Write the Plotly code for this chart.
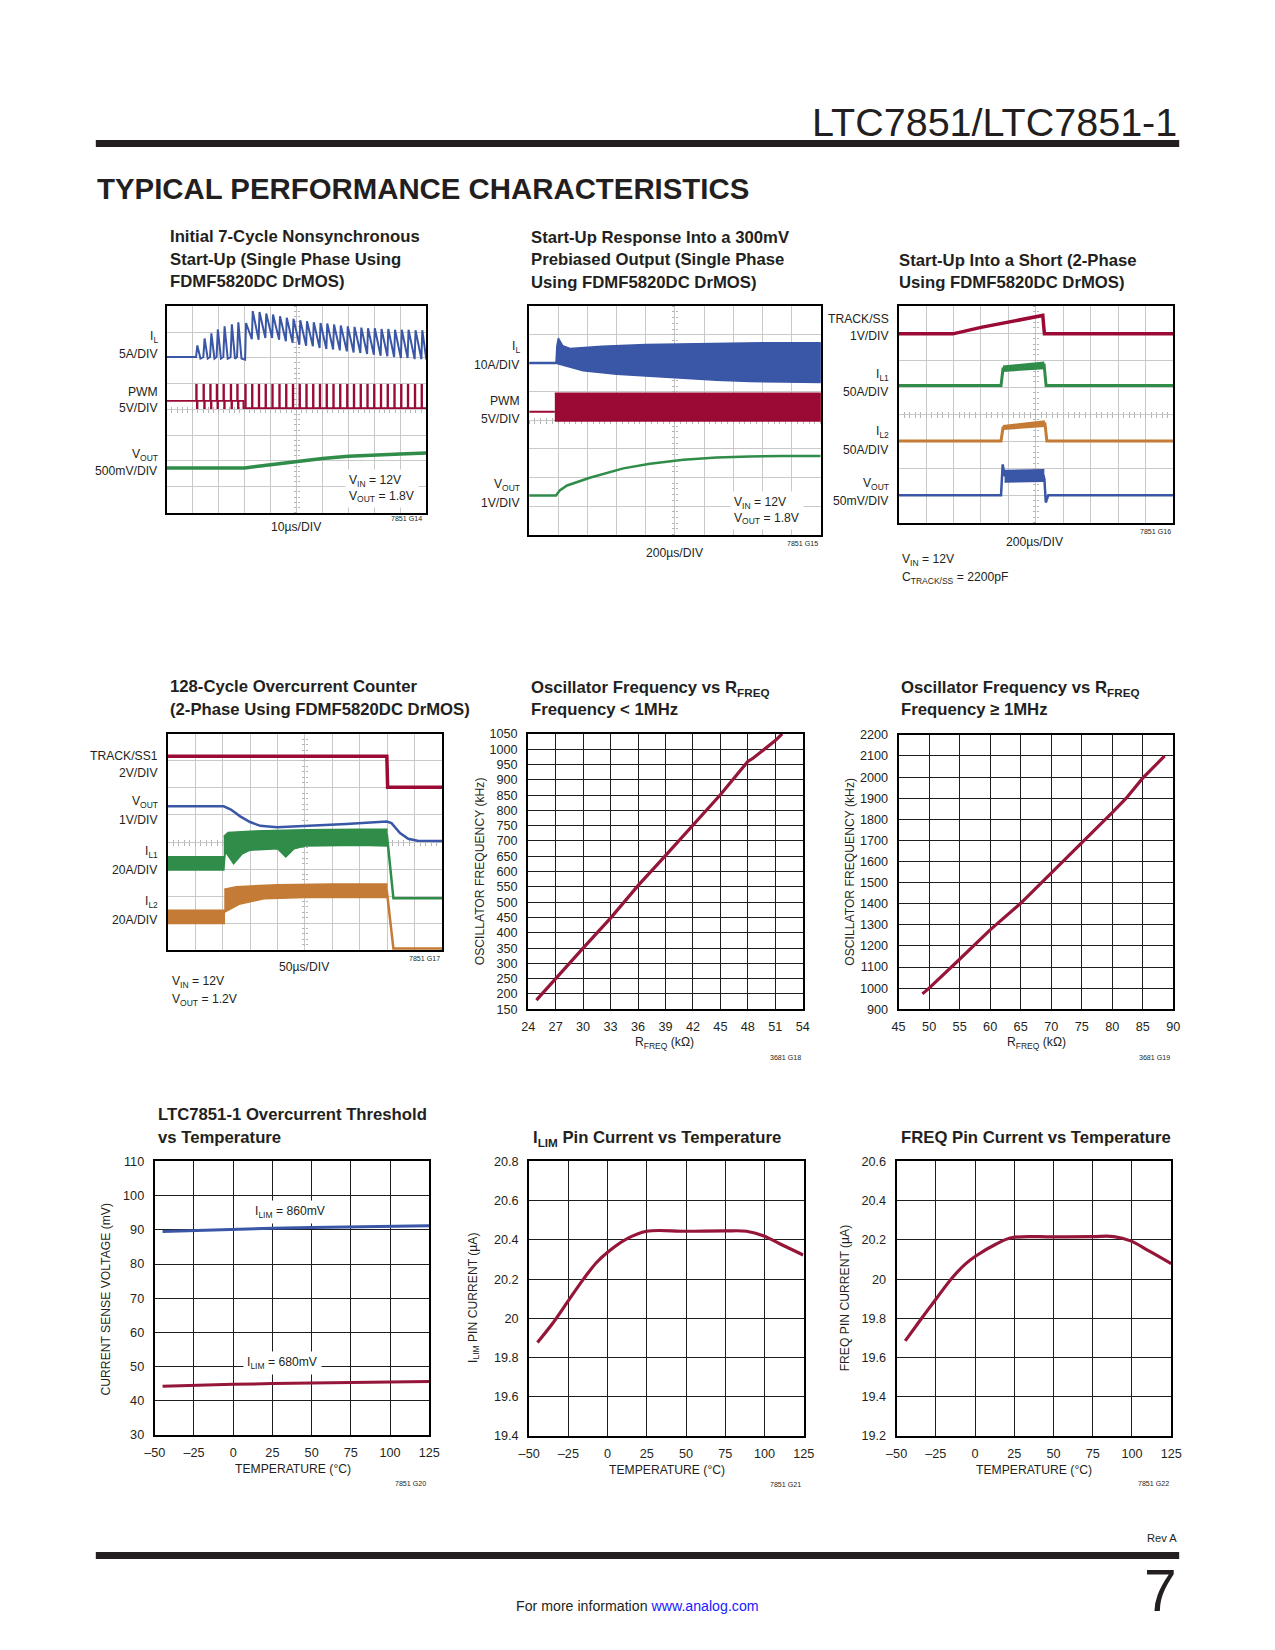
import plotly.graph_objects as go

# Page is 1275x1650; the browser body keeps its default 8px margin, so the figure is 16px smaller
PAGE_W, PAGE_H = 1275, 1650
OFF = 8
FW, FH = PAGE_W - 2 * OFF, PAGE_H - 2 * OFF
# the photographed page comes out slightly shrunk about its centre; pre-compensate positions
SX, SY = 0.984, 0.990
CX, CY = 637.5, 825.0
FSCALE = 1.0 / 0.987
FONT = "Liberation Sans, Arial, Helvetica, sans-serif"
TXT = "#231f20"
RED = "#9b0a34"
BLUE = "#3a56a6"
GREEN = "#2f8c49"
ORANGE = "#c47b35"
CURVE = "#951638"

# ---------------- data (scope traces in divisions, x 0-10, y 0-8) ----------------
# Panel 1: Initial 7-cycle nonsynchronous start-up
P1_IL_BASE = 6.03
P1_NS_FLOOR = 5.97
P1_NS_RISE = 0.05
P1_NS_FALL = 0.12
P1_NS_PULSE_T = [1.13, 1.41, 1.67, 1.92, 2.18, 2.46, 2.71]
P1_NS_IL_PEAK = [6.48, 6.75, 6.95, 7.10, 7.22, 7.30, 7.38]
P1_SYNC_START = 5.93
P1_SYNC_RISE = 0.035
P1_SYNC_PULSE_T = [3.02, 3.28, 3.54, 3.80, 4.06, 4.33, 4.59, 4.85, 5.11, 5.37, 5.63, 5.89, 6.15, 6.41,
                   6.67, 6.94, 7.20, 7.46, 7.72, 7.98, 8.24, 8.50, 8.76, 9.02, 9.28, 9.55, 9.81]
P1_SYNC_IL_PEAK = [7.35, 7.81, 7.78, 7.72, 7.68, 7.61, 7.55, 7.51, 7.46, 7.42, 7.38, 7.35, 7.33, 7.29,
                   7.25, 7.22, 7.20, 7.17, 7.15, 7.15, 7.12, 7.12, 7.09, 7.09, 7.09, 7.07, 7.07]
P1_SYNC_IL_VALLEY = [6.72, 6.70, 6.77, 6.77, 6.70, 6.64, 6.58, 6.51, 6.47, 6.45, 6.38, 6.34, 6.32, 6.29,
                     6.25, 6.21, 6.19, 6.15, 6.12, 6.08, 6.06, 6.03, 5.99, 5.99, 5.95, 5.95, 5.93]
P1_END = 10.0
P1_PWM_MID, P1_PWM_LOW, P1_PWM_HIGH = 4.33, 4.05, 4.95
P1_PWM_WIDTH = 0.03
P1_PWM_SWITCH = 2.95
P1_VOUT_T = [0, 3.0, 4.0, 5.0, 6.0, 7.0, 8.0, 9.0, 10]
P1_VOUT_V = [1.73, 1.73, 1.85, 1.98, 2.10, 2.18, 2.24, 2.27, 2.31]

# Panel 2: start-up into 300mV prebiased output
P2_IL_FLAT_T = [0, 0.92]
P2_IL_FLAT_V = [6.01, 6.01]
P2_IL_UP_T = [0.92, 0.95, 1.0, 1.15, 1.4, 2.5, 4.0, 6.0, 8.0, 10.0]
P2_IL_UP_V = [6.01, 6.60, 6.88, 6.62, 6.52, 6.60, 6.66, 6.70, 6.72, 6.72]
P2_IL_LO_T = [0.92, 1.4, 1.85, 3.0, 4.14, 5.29, 6.43, 7.57, 8.72, 10.0]
P2_IL_LO_V = [6.00, 5.86, 5.74, 5.62, 5.56, 5.48, 5.41, 5.36, 5.35, 5.33]
P2_PWM_FLAT_T = [0, 0.88]
P2_PWM_FLAT_V = [4.30, 4.30]
P2_PWM_BAND_T = [0.88, 10.0]
P2_PWM_BAND_HI = [4.95, 4.95]
P2_PWM_BAND_LO = [3.98, 3.98]
P2_VOUT_T = [0, 0.92, 1.05, 1.3, 2.08, 3.23, 4.14, 5.29, 6.43, 7.57, 8.72, 10]
P2_VOUT_V = [1.37, 1.37, 1.55, 1.72, 1.99, 2.32, 2.48, 2.62, 2.70, 2.74, 2.75, 2.75]

# Panel 3: start-up into a short
P3_SS_T = [0, 1.98, 3.0, 4.0, 5.25, 5.31, 10]
P3_SS_V = [6.98, 6.98, 7.22, 7.42, 7.66, 6.98, 6.98]
P3_IL1_T = [0, 3.73, 3.80, 5.30, 5.37, 10]
P3_IL1_V = [5.07, 5.07, 5.68, 5.82, 5.07, 5.07]
P3_IL1_BAND_T = [3.80, 5.28]
P3_IL1_BAND_HI = [5.78, 5.93]
P3_IL1_BAND_LO = [5.60, 5.70]
P3_IL2_T = [0, 3.73, 3.80, 5.33, 5.40, 10]
P3_IL2_V = [3.02, 3.02, 3.50, 3.65, 3.02, 3.02]
P3_IL2_BAND_T = [3.80, 5.30]
P3_IL2_BAND_HI = [3.58, 3.75]
P3_IL2_BAND_LO = [3.45, 3.56]
P3_VOUT_T = [0, 3.73, 3.79, 3.86, 5.28, 5.31, 5.36, 5.45, 10]
P3_VOUT_V = [1.01, 1.01, 2.15, 1.75, 1.72, 1.60, 0.74, 1.01, 1.01]
P3_VOUT_BAND_T = [3.86, 5.28]
P3_VOUT_BAND_HI = [1.93, 1.95]
P3_VOUT_BAND_LO = [1.50, 1.53]

# Panel 4: 128-cycle overcurrent counter
P4_SS_T = [0, 7.98, 8.01, 10]
P4_SS_V = [7.17, 7.17, 6.03, 6.03]
P4_VOUT_T = [0, 2.04, 2.3, 2.64, 3.0, 3.37, 3.98, 5.3, 6.5, 7.98, 8.15, 8.46, 8.76, 9.1, 10]
P4_VOUT_V = [5.32, 5.32, 5.20, 4.95, 4.74, 4.60, 4.55, 4.60, 4.67, 4.76, 4.70, 4.33, 4.12, 4.05, 4.04]
P4_IL1_PRE_T = [0, 2.04]
P4_IL1_PRE_HI = [3.46, 3.46]
P4_IL1_PRE_LO = [2.97, 2.97]
P4_IL1_UP_T = [2.04, 2.2, 3.0, 5.0, 7.0, 7.98]
P4_IL1_UP_V = [4.20, 4.35, 4.40, 4.45, 4.47, 4.47]
P4_IL1_LO_T = [2.04, 2.1, 2.4, 2.7, 3.0, 4.0, 4.3, 4.6, 5.0, 7.0, 7.98]
P4_IL1_LO_V = [3.00, 3.65, 3.20, 3.55, 3.70, 3.75, 3.45, 3.75, 3.85, 3.88, 3.85]
P4_IL1_DROP_T = [7.98, 8.22, 10]
P4_IL1_DROP_V = [4.30, 1.92, 1.92]
P4_IL2_PRE_T = [0, 2.06]
P4_IL2_PRE_HI = [1.48, 1.48]
P4_IL2_PRE_LO = [0.99, 0.99]
P4_IL2_UP_T = [2.06, 2.5, 4.0, 6.0, 7.98]
P4_IL2_UP_V = [2.25, 2.35, 2.42, 2.45, 2.45]
P4_IL2_LO_T = [2.06, 2.3, 2.6, 3.5, 5.0, 7.98]
P4_IL2_LO_V = [1.40, 1.55, 1.70, 1.90, 1.95, 1.95]
P4_IL2_DROP_T = [7.98, 8.22, 10]
P4_IL2_DROP_V = [2.20, 0.06, 0.06]

# Panel 5: oscillator frequency vs RFREQ (< 1MHz)
P5_R = [24.9, 27, 30, 33, 36, 39, 42, 45, 48, 48.6, 51, 51.75]
P5_F = [180, 251, 350, 448, 554, 652, 753, 851, 960, 971, 1028, 1050]
P5_XTICKS = [24, 27, 30, 33, 36, 39, 42, 45, 48, 51, 54]
P5_YTICKS = list(range(150, 1051, 50))

# Panel 6: oscillator frequency vs RFREQ (>= 1MHz)
P6_R = [48.9, 50, 55, 60, 65, 70, 75, 80, 82.3, 85, 88.6]
P6_F = [973, 1000, 1137, 1276, 1402, 1544, 1690, 1832, 1900, 1995, 2100]
P6_XTICKS = [45, 50, 55, 60, 65, 70, 75, 80, 85, 90]
P6_YTICKS = list(range(900, 2201, 100))

# Panel 7: overcurrent threshold vs temperature
P7_T = [-45, -25, 0, 25, 50, 75, 100, 125]
P7_860 = [89.5, 89.8, 90.2, 90.5, 90.7, 90.9, 91.0, 91.2]
P7_680 = [44.2, 44.5, 44.8, 45.0, 45.2, 45.4, 45.5, 45.6]
P7_YTICKS = [30, 40, 50, 60, 70, 80, 90, 100, 110]

TEMP_TICKS = [-50, -25, 0, 25, 50, 75, 100, 125]
TEMP_TEXT = ["\u201350", "\u201325", "0", "25", "50", "75", "100", "125"]

# Panel 8: ILIM pin current vs temperature
P8_T = [-44.7, -34.5, -25, -15.4, -6.9, 0, 12.2, 24.9, 50, 75, 88.5, 99.6, 109.7, 124.6]
P8_I = [19.877, 19.98, 20.09, 20.2, 20.286, 20.337, 20.405, 20.444, 20.444, 20.446, 20.444, 20.42, 20.38, 20.323]
P8_YTICKS = [19.4, 19.6, 19.8, 20.0, 20.2, 20.4, 20.6, 20.8]
P8_YTEXT = ["19.4", "19.6", "19.8", "20", "20.2", "20.4", "20.6", "20.8"]

# Panel 9: FREQ pin current vs temperature
P9_T = [-44.5, -34.5, -25, -14.4, -5.9, 0.5, 13.2, 23.8, 50, 75, 88.5, 99.1, 110.8, 125]
P9_I = [19.685, 19.795, 19.897, 20.008, 20.079, 20.118, 20.178, 20.212, 20.215, 20.217, 20.217, 20.195, 20.144, 20.079]
P9_YTICKS = [19.2, 19.4, 19.6, 19.8, 20.0, 20.2, 20.4, 20.6]
P9_YTEXT = ["19.2", "19.4", "19.6", "19.8", "20", "20.2", "20.4", "20.6"]


# ---------------- layout helpers ----------------
def X(v):
    d = CX + (v - CX) / SX
    return (d - OFF) / FW


def Y(v):
    d = CY + (v - CY) / SY
    return 1 - (d - OFF) / FH


def F(s):
    return round(s * FSCALE, 2)


# plot areas in page pixels: (left, right, top, bottom)
DOM = {
    1: (166, 426, 307, 513),
    2: (529, 821, 307, 535),
    3: (899, 1174, 307, 523),
    4: (167, 442, 734, 950),
    5: (528, 803, 734, 1009),
    6: (899, 1174, 735, 1009),
    7: (154, 429, 1161, 1434),
    8: (529, 804, 1161, 1435),
    9: (897, 1172, 1161, 1435),
}

fig = go.Figure()
layout = dict(
    width=FW, height=FH, margin=dict(l=0, r=0, t=0, b=0),
    paper_bgcolor="white", plot_bgcolor="white", showlegend=False,
    font=dict(family=FONT, size=12, color=TXT),
)
annotations = []
shapes = []


def ax_name(i, k):
    return k if i == 1 else "%s%d" % (k, i)


def set_axes(i, xcfg, ycfg):
    l, r, t, b = DOM[i]
    xc = dict(domain=[X(l), X(r)], anchor=ax_name(i, "y"), zeroline=False, fixedrange=True,
              showline=True, linecolor="black", linewidth=2, mirror=True, ticks="")
    yc = dict(domain=[Y(b), Y(t)], anchor=ax_name(i, "x"), zeroline=False, fixedrange=True,
              showline=True, linecolor="black", linewidth=2, mirror=True, ticks="")
    xc.update(xcfg)
    yc.update(ycfg)
    layout["xaxis" if i == 1 else "xaxis%d" % i] = xc
    layout["yaxis" if i == 1 else "yaxis%d" % i] = yc


def scope_axes(i):
    g = dict(showgrid=True, gridcolor="#c9c9c9", gridwidth=1, showticklabels=False, tick0=0, dtick=1)
    set_axes(i, dict(range=[0, 10], **g), dict(range=[0, 8], **g))
    # small graticule ticks along the centre cross (drawn beneath the traces)
    l, r, t, b = DOM[i]
    base = 20 + 4 * (i - 1)
    tk = dict(showgrid=False, zeroline=False, showline=False, showticklabels=False, ticklen=2.5,
              tickwidth=1, tickcolor="#b4b4b4", tick0=0, dtick=0.2, fixedrange=True, anchor="free",
              layer="below traces")
    for k, side in enumerate(["inside", "outside"]):
        n = base + k
        layout["xaxis%d" % n] = dict(overlaying=ax_name(i, "x"), position=Y((t + b) / 2), range=[0, 10],
                                     domain=[X(l), X(r)], ticks=side, **tk)
        fig.add_trace(go.Scatter(x=[], y=[], mode="lines", xaxis="x%d" % n, yaxis=ax_name(i, "y"),
                                 hoverinfo="skip"))
        m = base + 2 + k
        layout["yaxis%d" % m] = dict(overlaying=ax_name(i, "y"), position=X((l + r) / 2), range=[0, 8],
                                     domain=[Y(b), Y(t)], ticks=side, **tk)
        fig.add_trace(go.Scatter(x=[], y=[], mode="lines", xaxis=ax_name(i, "x"), yaxis="y%d" % m,
                                 hoverinfo="skip"))


TICK_SIZE = 12.5


def chart_axes(i, xr, yr, xt, yt, xtext=None, ytext=None):
    g = dict(showgrid=True, gridcolor="#1e1e1e", gridwidth=1,
             tickfont=dict(family=FONT, size=F(TICK_SIZE), color=TXT), tickmode="array")
    xc = dict(range=xr, tickvals=xt, ticklabelstandoff=5, **g)
    yc = dict(range=yr, tickvals=yt, ticklabelstandoff=6, **g)
    if xtext:
        xc["ticktext"] = xtext
    if ytext:
        yc["ticktext"] = ytext
    set_axes(i, xc, yc)


def line(i, xs, ys, color, width, shape="linear"):
    fig.add_trace(go.Scatter(x=xs, y=ys, mode="lines", line=dict(color=color, width=width, shape=shape),
                             xaxis=ax_name(i, "x"), yaxis=ax_name(i, "y"), hoverinfo="skip"))


def band(i, xu, yu, xl, yl, color):
    xs = list(xu) + list(xl)[::-1]
    ys = list(yu) + list(yl)[::-1]
    fig.add_trace(go.Scatter(x=xs, y=ys, mode="lines", fill="toself", fillcolor=color,
                             line=dict(color=color, width=1.5),
                             xaxis=ax_name(i, "x"), yaxis=ax_name(i, "y"), hoverinfo="skip"))


def A(text, x, y, size=12, xa="center", ya="middle", bold=False, color=TXT, angle=0, bg=None, align=None,
      family=FONT):
    d = dict(text=("<b>%s</b>" % text) if bold else text, x=X(x), y=Y(y), xref="paper", yref="paper",
             showarrow=False, xanchor=xa, yanchor=ya, textangle=angle,
             font=dict(family=family, size=F(size), color=color))
    if bg:
        d.update(bgcolor=bg, borderpad=3)
    if align:
        d["align"] = align
    annotations.append(d)


# ---------------- panel 1 ----------------
scope_axes(1)
il_x = [0, P1_NS_PULSE_T[0]]
il_y = [P1_IL_BASE, P1_IL_BASE]
for t, p in zip(P1_NS_PULSE_T, P1_NS_IL_PEAK):
    il_x += [t, t + P1_NS_RISE, t + P1_NS_RISE + P1_NS_FALL]
    il_y += [P1_IL_BASE, p, P1_NS_FLOOR]
ts = P1_SYNC_PULSE_T + [P1_END]
il_x.append(ts[0])
il_y.append(P1_SYNC_START)
for k, (p, v) in enumerate(zip(P1_SYNC_IL_PEAK, P1_SYNC_IL_VALLEY)):
    il_x += [ts[k] + P1_SYNC_RISE, ts[k + 1]]
    il_y += [p, v]
line(1, il_x, il_y, BLUE, 2)

w = P1_PWM_WIDTH
pw_x = [0]
pw_y = [P1_PWM_MID]
for t in P1_NS_PULSE_T:
    pw_x += [t, t, t + w, t + w, t + 2 * w, t + 2 * w]
    pw_y += [P1_PWM_MID, P1_PWM_HIGH, P1_PWM_HIGH, P1_PWM_LOW, P1_PWM_LOW, P1_PWM_MID]
pw_x += [P1_PWM_SWITCH, P1_PWM_SWITCH]
pw_y += [P1_PWM_MID, P1_PWM_LOW]
for t in P1_SYNC_PULSE_T:
    pw_x += [t, t, t + w, t + w]
    pw_y += [P1_PWM_LOW, P1_PWM_HIGH, P1_PWM_HIGH, P1_PWM_LOW]
pw_x.append(P1_END)
pw_y.append(P1_PWM_LOW)
line(1, pw_x, pw_y, RED, 1.6)
line(1, P1_VOUT_T, P1_VOUT_V, GREEN, 3.5)

# ---------------- panel 2 ----------------
scope_axes(2)
line(2, P2_IL_FLAT_T, P2_IL_FLAT_V, BLUE, 2.5)
band(2, P2_IL_UP_T, P2_IL_UP_V, P2_IL_LO_T, P2_IL_LO_V, BLUE)
line(2, P2_PWM_FLAT_T, P2_PWM_FLAT_V, RED, 2)
band(2, P2_PWM_BAND_T, P2_PWM_BAND_HI, P2_PWM_BAND_T, P2_PWM_BAND_LO, RED)
line(2, P2_VOUT_T, P2_VOUT_V, GREEN, 2.5)

# ---------------- panel 3 ----------------
scope_axes(3)
line(3, P3_SS_T, P3_SS_V, RED, 3.5)
line(3, P3_IL1_T, P3_IL1_V, GREEN, 3)
band(3, P3_IL1_BAND_T, P3_IL1_BAND_HI, P3_IL1_BAND_T, P3_IL1_BAND_LO, GREEN)
line(3, P3_IL2_T, P3_IL2_V, ORANGE, 3)
band(3, P3_IL2_BAND_T, P3_IL2_BAND_HI, P3_IL2_BAND_T, P3_IL2_BAND_LO, ORANGE)
line(3, P3_VOUT_T, P3_VOUT_V, BLUE, 2.5)
band(3, P3_VOUT_BAND_T, P3_VOUT_BAND_HI, P3_VOUT_BAND_T, P3_VOUT_BAND_LO, BLUE)

# ---------------- panel 4 ----------------
scope_axes(4)
line(4, P4_SS_T, P4_SS_V, RED, 3.5)
line(4, P4_VOUT_T, P4_VOUT_V, BLUE, 2.5)
band(4, P4_IL1_PRE_T, P4_IL1_PRE_HI, P4_IL1_PRE_T, P4_IL1_PRE_LO, GREEN)
band(4, P4_IL1_UP_T, P4_IL1_UP_V, P4_IL1_LO_T, P4_IL1_LO_V, GREEN)
line(4, P4_IL1_DROP_T, P4_IL1_DROP_V, GREEN, 2.5)
band(4, P4_IL2_PRE_T, P4_IL2_PRE_HI, P4_IL2_PRE_T, P4_IL2_PRE_LO, ORANGE)
band(4, P4_IL2_UP_T, P4_IL2_UP_V, P4_IL2_LO_T, P4_IL2_LO_V, ORANGE)
line(4, P4_IL2_DROP_T, P4_IL2_DROP_V, ORANGE, 2.5)

# ---------------- panels 5-9 ----------------
chart_axes(5, [24, 54], [150, 1050], P5_XTICKS, P5_YTICKS)
line(5, P5_R, P5_F, CURVE, 3.2)
chart_axes(6, [45, 90], [900, 2200], P6_XTICKS, P6_YTICKS)
line(6, P6_R, P6_F, CURVE, 3.2)
chart_axes(7, [-50, 125], [30, 110], TEMP_TICKS, P7_YTICKS, xtext=TEMP_TEXT)
line(7, P7_T, P7_860, BLUE, 3)
line(7, P7_T, P7_680, CURVE, 3)
chart_axes(8, [-50, 125], [19.4, 20.8], TEMP_TICKS, P8_YTICKS, xtext=TEMP_TEXT, ytext=P8_YTEXT)
line(8, P8_T, P8_I, CURVE, 3.2, shape="spline")
chart_axes(9, [-50, 125], [19.2, 20.6], TEMP_TICKS, P9_YTICKS, xtext=TEMP_TEXT, ytext=P9_YTEXT)
line(9, P9_T, P9_I, CURVE, 3.2, shape="spline")

# ---------------- page header / footer ----------------
shapes.append(dict(type="rect", xref="paper", yref="paper", x0=X(95), x1=X(1180), y0=Y(148), y1=Y(141),
                   fillcolor="#231f20", line=dict(width=0)))
shapes.append(dict(type="rect", xref="paper", yref="paper", x0=X(95), x1=X(1180), y0=Y(1558), y1=Y(1551),
                   fillcolor="#231f20", line=dict(width=0)))
A("LTC7851/LTC7851-1", 1180, 123, size=39, xa="right")
A("TYPICAL PERFORMANCE CHARACTERISTICS", 94, 189, size=29, xa="left", bold=True)
A("Rev A", 1180, 1537, size=11, xa="right")
A("7", 1180, 1589, size=58, xa="right")
A("For more information <span style='color:#2020ff'>www.analog.com</span>", 638, 1605, size=14)

# ---------------- titles ----------------
TS = 16.5
for txt, yy in [("Initial 7-Cycle Nonsynchronous", 237), ("Start-Up (Single Phase Using", 260),
                ("FDMF5820DC DrMOS)", 282)]:
    A(txt, 167, yy, size=TS, xa="left", bold=True)
for txt, yy in [("Start-Up Response Into a 300mV", 238), ("Prebiased Output (Single Phase", 260),
                ("Using FDMF5820DC DrMOS)", 283)]:
    A(txt, 529, yy, size=TS, xa="left", bold=True)
for txt, yy in [("Start-Up Into a Short (2-Phase", 261), ("Using FDMF5820DC DrMOS)", 283)]:
    A(txt, 897, yy, size=TS, xa="left", bold=True)
for txt, yy in [("128-Cycle Overcurrent Counter", 687), ("(2-Phase Using FDMF5820DC DrMOS)", 710)]:
    A(txt, 167, yy, size=TS, xa="left", bold=True)
for txt, yy in [("Oscillator Frequency vs R<sub>FREQ</sub>", 689), ("Frequency < 1MHz", 710)]:
    A(txt, 529, yy, size=TS, xa="left", bold=True)
for txt, yy in [("Oscillator Frequency vs R<sub>FREQ</sub>", 689), ("Frequency \u2265 1MHz", 710)]:
    A(txt, 899, yy, size=TS, xa="left", bold=True)
for txt, yy in [("LTC7851-1 Overcurrent Threshold", 1114), ("vs Temperature", 1137)]:
    A(txt, 155, yy, size=TS, xa="left", bold=True)
A("I<sub>LIM</sub> Pin Current vs Temperature", 531, 1138, size=TS, xa="left", bold=True)
A("FREQ Pin Current vs Temperature", 899, 1137, size=TS, xa="left", bold=True)

# ---------------- scope labels ----------------
LS = 12
for txt, xx, yy in [("I<sub>L</sub>", 159, 338), ("5A/DIV", 159, 355), ("PWM", 159, 393), ("5V/DIV", 159, 409),
                    ("V<sub>OUT</sub>", 159, 456), ("500mV/DIV", 159, 472),
                    ("I<sub>L</sub>", 522, 348), ("10A/DIV", 522, 366), ("PWM", 522, 402), ("5V/DIV", 522, 420),
                    ("V<sub>OUT</sub>", 522, 485), ("1V/DIV", 522, 503),
                    ("TRACK/SS", 891, 320), ("1V/DIV", 891, 337), ("I<sub>L1</sub>", 891, 376),
                    ("50A/DIV", 891, 393), ("I<sub>L2</sub>", 891, 433), ("50A/DIV", 891, 451),
                    ("V<sub>OUT</sub>", 891, 484), ("50mV/DIV", 891, 501),
                    ("TRACK/SS1", 159, 756), ("2V/DIV", 159, 773), ("V<sub>OUT</sub>", 159, 802),
                    ("1V/DIV", 159, 820), ("I<sub>L1</sub>", 159, 852), ("20A/DIV", 159, 870),
                    ("I<sub>L2</sub>", 159, 902), ("20A/DIV", 159, 920)]:
    A(txt, xx, yy, size=LS, xa="right")

A("V<sub>IN</sub> = 12V<br>V<sub>OUT</sub> = 1.8V", 345, 489, size=LS, xa="left", align="left", bg="white")
A("V<sub>IN</sub> = 12V<br>V<sub>OUT</sub> = 1.8V", 730, 511, size=LS, xa="left", align="left", bg="white")
A("V<sub>IN</sub> = 12V", 900, 560, size=LS, xa="left")
A("C<sub>TRACK/SS</sub> = 2200pF", 900, 578, size=LS, xa="left")
A("V<sub>IN</sub> = 12V", 169, 982, size=LS, xa="left")
A("V<sub>OUT</sub> = 1.2V", 169, 1000, size=LS, xa="left")

A("10\u00b5s/DIV", 296, 527, size=LS)
A("200\u00b5s/DIV", 675, 553, size=LS)
A("200\u00b5s/DIV", 1036, 542, size=LS)
A("50\u00b5s/DIV", 304, 967, size=LS)

GS = 7
A("7851 G14", 424, 519, size=GS, xa="right")
A("7851 G15", 820, 544, size=GS, xa="right")
A("7851 G16", 1174, 532, size=GS, xa="right")
A("7851 G17", 442, 959, size=GS, xa="right")
A("3681 G18", 803, 1058, size=GS, xa="right")
A("3681 G19", 1173, 1058, size=GS, xa="right")
A("7851 G20", 428, 1483, size=GS, xa="right")
A("7851 G21", 803, 1484, size=GS, xa="right")
A("7851 G22", 1172, 1483, size=GS, xa="right")

# ---------------- chart axis titles ----------------
AS = 12
A("OSCILLATOR FREQUENCY (kHz)", 480, 871, size=AS, angle=-90)
A("R<sub>FREQ</sub> (k\u03a9)", 665, 1043, size=AS)
A("OSCILLATOR FREQUENCY (kHz)", 850, 872, size=AS, angle=-90)
A("R<sub>FREQ</sub> (k\u03a9)", 1037, 1043, size=AS)
A("CURRENT SENSE VOLTAGE (mV)", 105, 1298, size=AS, angle=-90)
A("TEMPERATURE (\u00b0C)", 292, 1468, size=AS)
A("I<sub>LIM</sub> PIN CURRENT (\u00b5A)", 473, 1297, size=AS, angle=-90)
A("TEMPERATURE (\u00b0C)", 667, 1469, size=AS)
A("FREQ PIN CURRENT (\u00b5A)", 845, 1297, size=AS, angle=-90)
A("TEMPERATURE (\u00b0C)", 1035, 1469, size=AS)
A("I<sub>LIM</sub> = 860mV", 290, 1211, size=LS, bg="white")
A("I<sub>LIM</sub> = 680mV", 282, 1362, size=LS, bg="white")

layout["annotations"] = annotations
layout["shapes"] = shapes
fig.update_layout(**layout)
fig.write_html("out.html", config={"displayModeBar": False, "staticPlot": True})
